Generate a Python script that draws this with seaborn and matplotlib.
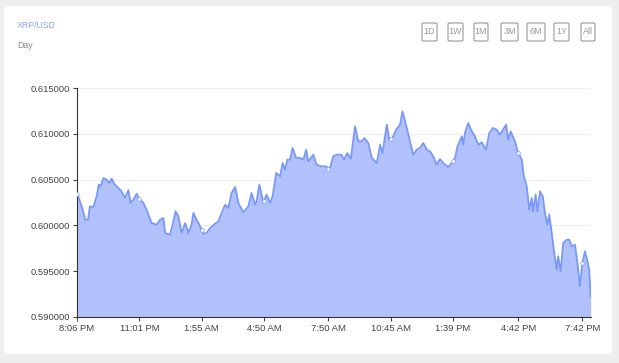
import numpy as np
import pandas as pd
import matplotlib
matplotlib.use("Agg")
import matplotlib.pyplot as plt
from matplotlib.patches import FancyBboxPatch
import seaborn as sns

# minutes since 8:06 PM
minutes = [1, 8, 16, 23, 31, 36, 46, 55, 61, 66, 74, 83, 91, 97, 106, 116, 125, 134, 144, 150,
           158, 167, 176, 186, 195, 209, 223, 233, 242, 247, 261, 268, 276, 284, 293, 303, 312,
           321, 326, 335, 345, 354, 363, 373, 387, 396, 405, 415, 424, 433, 443, 452, 466, 480,
           489, 499, 503, 511, 522, 531, 541, 548, 558, 569, 576, 583, 589, 597, 604, 614, 625,
           634, 642, 648, 662, 671, 685, 698, 707, 718, 727, 741, 748, 757, 767, 779, 788, 798,
           805, 816, 826, 840, 849, 856, 868, 875, 884, 894, 905, 912, 924, 933, 942, 952, 961,
           970, 980, 989, 998, 1008, 1017, 1026, 1040, 1050, 1059, 1066, 1078, 1082, 1087, 1096,
           1106, 1115, 1124, 1134, 1146, 1155, 1165, 1176, 1185, 1196, 1202, 1208, 1215, 1227,
           1236, 1246, 1252, 1260, 1267, 1274, 1278, 1285, 1290, 1297, 1305, 1311, 1318, 1323,
           1330, 1337, 1344, 1348, 1355, 1362, 1372, 1379, 1386, 1395, 1402, 1409, 1416, 1423,
           1430, 1435, 1439]
prices = [0.60346, 0.60263, 0.60172, 0.60063, 0.60063, 0.60208, 0.60201, 0.60317, 0.60445,
          0.60426, 0.60517, 0.60499, 0.60463, 0.60510, 0.60445, 0.60408, 0.60372, 0.60299,
          0.60383, 0.60245, 0.60281, 0.60346, 0.60281, 0.60245, 0.60172, 0.60026, 0.60008,
          0.60063, 0.60081, 0.59917, 0.59899, 0.60008, 0.60154, 0.60099, 0.59917, 0.60026,
          0.59917, 0.60008, 0.60135, 0.60063, 0.59990, 0.59910, 0.59917, 0.59972, 0.60019,
          0.60044, 0.60135, 0.60226, 0.60190, 0.60354, 0.60419, 0.60245, 0.60143, 0.60208,
          0.60354, 0.60226, 0.60263, 0.60445, 0.60245, 0.60336, 0.60245, 0.60317, 0.60572,
          0.60536, 0.60681, 0.60608, 0.60718, 0.60718, 0.60845, 0.60736, 0.60736, 0.60718,
          0.60827, 0.60699, 0.60772, 0.60663, 0.60645, 0.60645, 0.60608, 0.60754, 0.60772,
          0.60772, 0.60718, 0.60790, 0.60725, 0.61082, 0.60918, 0.60918, 0.60954, 0.60900,
          0.60736, 0.60681, 0.60881, 0.60790, 0.61100, 0.60936, 0.60954, 0.61045, 0.61100,
          0.61245, 0.61063, 0.60918, 0.60772, 0.60827, 0.60845, 0.60900, 0.60827, 0.60809,
          0.60754, 0.60663, 0.60725, 0.60681, 0.60638, 0.60681, 0.60736, 0.60863, 0.60972,
          0.60881, 0.61009, 0.61118, 0.61027, 0.60972, 0.60881, 0.60907, 0.60827, 0.61009,
          0.61063, 0.61045, 0.60991, 0.61063, 0.61100, 0.60936, 0.61027, 0.60918, 0.60790,
          0.60718, 0.60536, 0.60426, 0.60172, 0.60299, 0.60154, 0.60336, 0.60154, 0.60372,
          0.60317, 0.60135, 0.60008, 0.60117, 0.59917, 0.59699, 0.59517, 0.59662, 0.59499,
          0.59808, 0.59844, 0.59844, 0.59771, 0.59790, 0.59590, 0.59335, 0.59590, 0.59717,
          0.59608, 0.59517, 0.59226]

tick_minutes = [0, 175, 349, 524, 704, 879, 1053, 1236, 1416]
tick_labels = ["8:06 PM", "11:01 PM", "1:55 AM", "4:50 AM", "7:50 AM", "10:45 AM",
               "1:39 PM", "4:42 PM", "7:42 PM"]
y_ticks = [0.590, 0.595, 0.600, 0.605, 0.610, 0.615]
buttons = ["1D", "1W", "1M", "3M", "6M", "1Y", "All"]

sns.set_style("white")
plt.rcParams['font.family'] = ['Liberation Sans', 'DejaVu Sans']

df = pd.DataFrame({"minute": minutes, "price": prices})

fig = plt.figure(figsize=(6.19, 3.63), dpi=100)
fig.patch.set_facecolor("#eeeeee")
card = FancyBboxPatch((4 / 619, 9 / 363), 608 / 619, 348 / 363,
                      boxstyle="round,pad=0,rounding_size=0.008",
                      transform=fig.transFigure, facecolor="white", edgecolor="none", zorder=-5)
fig.patches.append(card)

ax = fig.add_axes([77 / 619, 1 - 317 / 363, 514 / 619, 229 / 363])
ax.set_facecolor("none")
ax.set_zorder(5)

line_color = "#7a99f6"
fill_color = "#b0c1fb"
ax.fill_between(df["minute"], df["price"], 0.590, color=fill_color, lw=0, zorder=1)
sns.lineplot(data=df, x="minute", y="price", ax=ax, color=line_color, lw=1.3, zorder=2)

mark_y = np.interp(tick_minutes, minutes, prices)
ax.scatter(tick_minutes, mark_y, s=7, facecolor="white", edgecolor=line_color,
           linewidth=0.5, zorder=3)

ax.set_xlim(0, 1440)
ax.set_ylim(0.590, 0.615)
ax.set_xticks(tick_minutes)
ax.set_xticklabels(tick_labels)
ax.set_yticks(y_ticks)
ax.set_yticklabels([f"{v:.6f}" for v in y_ticks])
ax.set_xlabel("")
ax.set_ylabel("")
ax.grid(axis="y", color="#eeeeee", lw=0.8, zorder=0)
ax.set_axisbelow(True)
for s in ["top", "right"]:
    ax.spines[s].set_visible(False)
for s in ["left", "bottom"]:
    ax.spines[s].set_color("#333333")
    ax.spines[s].set_linewidth(0.8)
ax.tick_params(axis="both", which="major", labelsize=6.8, colors="#444444",
               length=3, width=0.8, pad=2, direction="out",
               left=True, bottom=True)

fig.text(17 / 619, 1 - 25 / 363, "XRP/USD", color="#8ca4f7", fontsize=6.3, va="center", ha="left")
fig.text(17 / 619, 1 - 45 / 363, "Day", color="#888888", fontsize=6.3, va="center", ha="left")

btn_left = [422, 448, 474, 501, 527, 554, 581]
btn_w = [15, 15, 14, 17, 18, 15, 14]
for lbl, bx, bw in zip(buttons, btn_left, btn_w):
    r = FancyBboxPatch((bx / 619, 1 - 41 / 363), bw / 619, 18 / 363,
                       boxstyle="round,pad=0,rounding_size=0.003",
                       transform=fig.transFigure, facecolor="white",
                       edgecolor="#999999", lw=0.8)
    fig.patches.append(r)
    fig.text((bx + bw / 2) / 619, 1 - 32 / 363, lbl, color="#999999", fontsize=6.5,
             ha="center", va="center")

fig.savefig("out.png", dpi=100, facecolor=fig.get_facecolor())
